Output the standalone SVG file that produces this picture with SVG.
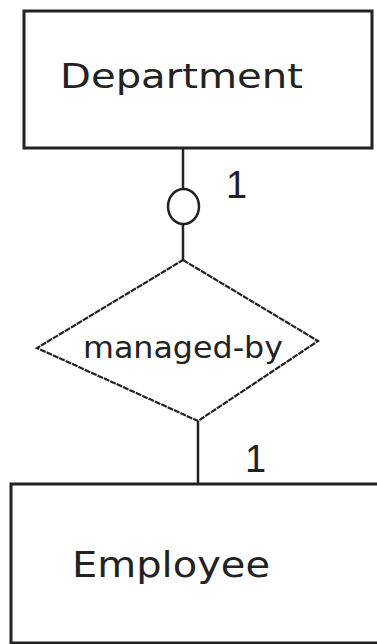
<svg xmlns="http://www.w3.org/2000/svg" width="377" height="644" viewBox="0 0 377 644">
<style>
.box{fill:#fff;stroke:#222;stroke-width:3}
.rel{fill:#fff;stroke:#222;stroke-width:2.2;stroke-dasharray:6 1}
.ln{stroke:#222;stroke-width:2.5;fill:none}
.t{font-family:"DejaVu Sans","Liberation Sans",sans-serif;fill:#222}
.n{font-family:"Liberation Sans","DejaVu Sans",sans-serif;fill:#222}
</style>
<rect width="377" height="644" fill="#fff"/>
<g id="connectors">
<line class="ln" x1="183" y1="148" x2="183" y2="189"/>
<ellipse class="ln" cx="183.5" cy="206.5" rx="15.5" ry="17.5" fill="#fff"/>
<line class="ln" x1="183" y1="224" x2="183" y2="260"/>
<line class="ln" x1="198" y1="421" x2="198" y2="485"/>
<text class="n" x="226" y="198" font-size="38">1</text>
<text class="n" x="245" y="472" font-size="38">1</text>
</g>
<g id="department">
<rect class="box" x="24" y="11" width="348" height="137"/>
<text class="t" x="60" y="88" font-size="34" textLength="243" lengthAdjust="spacingAndGlyphs">Department</text>
</g>
<g id="managed-by">
<polygon class="rel" points="183,260 318,341 198,421 37,348"/>
<text class="t" x="83" y="358" font-size="30" textLength="200" lengthAdjust="spacingAndGlyphs">managed-by</text>
</g>
<g id="employee">
<rect class="box" x="11" y="484" width="380" height="159"/>
<text class="t" x="72" y="577" font-size="36" textLength="198" lengthAdjust="spacingAndGlyphs">Employee</text>
</g>
</svg>
